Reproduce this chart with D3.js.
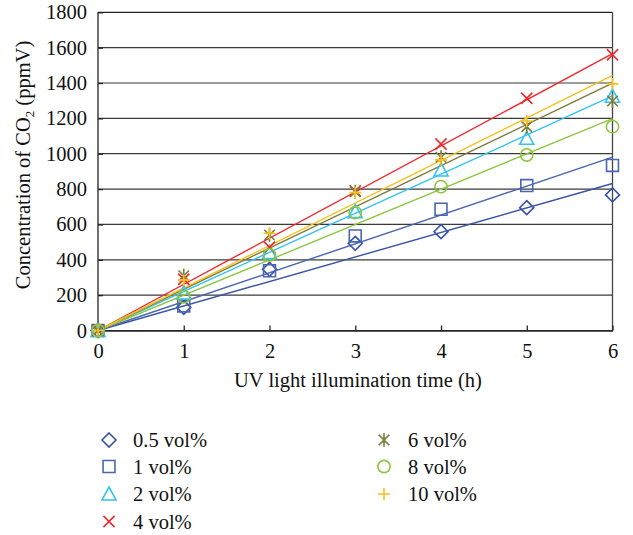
<!DOCTYPE html>
<html>
<head>
<meta charset="utf-8">
<script src="https://cdn.jsdelivr.net/npm/d3@7"></script>
<style>
  html, body { margin: 0; padding: 0; background: #fff; }
  svg text { font-family: "Liberation Serif", "DejaVu Serif", serif; fill: #111; }
</style>
</head>
<body>
<svg id="chart" width="633" height="535"></svg>
<script>
// Illumination times (h)
const times = [0, 1, 2, 3, 4, 5, 6];

// CO2 concentration (ppmV) per ethanol concentration
const series05 = [0, 131, 346, 493, 559, 695, 767];
const series1  = [0, 139, 338, 535, 686, 820, 934];
const series2  = [0, 212, 440, 672, 908, 1087, 1325];
const series4  = [0, 290, 471, 790, 1055, 1314, 1560];
const series6  = [0, 310, 540, 785, 980, 1153, 1298];
const series8  = [0, 191, 427, 667, 814, 993, 1153];
const series10 = [0, 285, 550, 780, 965, 1185, 1395];

const seriesNames = ["0.5 vol%", "1 vol%", "2 vol%", "4 vol%", "6 vol%", "8 vol%", "10 vol%"];
const seriesColors = ["#3a54a4", "#4a66b0", "#35c3f0", "#ee2b2f", "#7d7a3c", "#8dc63f", "#f7bf1a"];
const seriesSymbols = ["diamond", "square", "triangle", "cross", "asterisk", "circle", "plus"];

const yTicks = [0, 200, 400, 600, 800, 1000, 1200, 1400, 1600, 1800];
const xTicks = [0, 1, 2, 3, 4, 5, 6];

const allValues = [series05, series1, series2, series4, series6, series8, series10];
const series = seriesNames.map((name, i) => ({
  name, color: seriesColors[i], symbol: seriesSymbols[i], values: allValues[i]
}));

const svg = d3.select("#chart");
const plotLeft = 98, plotRight = 612.5, plotTop = 12.3, plotBottom = 330.5;
const fontSize = 20.5;

const x = d3.scaleLinear().domain([0, 6]).range([plotLeft, plotRight]);
const y = d3.scaleLinear().domain([0, 1800]).range([plotBottom, plotTop]);

// Horizontal grid lines
svg.append("g")
  .selectAll("line")
  .data(yTicks)
  .join("line")
  .attr("x1", plotLeft).attr("x2", plotRight)
  .attr("y1", d => y(d)).attr("y2", d => y(d))
  .attr("stroke", d => d === 1800 ? "#222" : "#3a3a3a")
  .attr("stroke-width", 1.2);

// Frame: left and right
svg.append("line").attr("x1", plotLeft).attr("x2", plotLeft).attr("y1", plotTop).attr("y2", plotBottom)
  .attr("stroke", "#222").attr("stroke-width", 1.3);
svg.append("line").attr("x1", plotRight).attr("x2", plotRight).attr("y1", plotTop).attr("y2", plotBottom)
  .attr("stroke", "#444").attr("stroke-width", 1.3);

// Axes
const xAxis = d3.axisBottom(x).tickValues(xTicks).tickSizeInner(-5).tickSizeOuter(0).tickPadding(13)
  .tickFormat(d3.format("d"));
const gx = svg.append("g").attr("transform", `translate(0,${plotBottom})`).call(xAxis);
gx.select(".domain").attr("stroke", "#222").attr("stroke-width", 1.3);
gx.selectAll(".tick line").attr("stroke", "#222").attr("stroke-width", 1.3);
gx.selectAll("text").attr("font-size", fontSize).attr("dy", "0.71em")
  .style("font-family", "Liberation Serif, serif").attr("fill", "#111");

const yAxis = d3.axisLeft(y).tickValues(yTicks).tickSizeInner(-5).tickSizeOuter(0).tickPadding(11)
  .tickFormat(d3.format("d"));
const gy = svg.append("g").attr("transform", `translate(${plotLeft},0)`).call(yAxis);
gy.select(".domain").remove();
gy.selectAll(".tick line").attr("stroke", "#222").attr("stroke-width", 1.3);
gy.selectAll("text").attr("font-size", fontSize)
  .style("font-family", "Liberation Serif, serif").attr("fill", "#111");

// Axis titles
svg.append("text")
  .attr("x", 358).attr("y", 387)
  .attr("text-anchor", "middle").attr("font-size", fontSize)
  .text("UV light illumination time (h)");

const yTitle = svg.append("text")
  .attr("transform", `translate(30,${165}) rotate(-90)`)
  .attr("text-anchor", "middle").attr("font-size", fontSize);
yTitle.append("tspan").text("Concentration of CO");
yTitle.append("tspan").attr("font-size", 13).attr("dy", 4).text("2");
yTitle.append("tspan").attr("dy", -4).text(" (ppmV)");

// Marker shapes
function symbolPath(type, s) {
  const h = s / 2;
  switch (type) {
    case "diamond": return `M0,${-h}L${h},0L0,${h}L${-h},0Z`;
    case "square": { const q = h * 0.85; return `M${-q},${-q}H${q}V${q}H${-q}Z`; }
    case "triangle": return `M0,${-h}L${h},${h * 0.85}L${-h},${h * 0.85}Z`;
    case "cross": { const q = h * 0.8; return `M${-q},${-q}L${q},${q}M${q},${-q}L${-q},${q}`; }
    case "asterisk": { const q = h * 0.75; return `M${-q},${-q}L${q},${q}M${q},${-q}L${-q},${q}M0,${-h}V${h}`; }
    case "plus": { const q = h * 0.85; return `M${-q},0H${q}M0,${-q}V${q}`; }
    case "circle": { const r = h * 0.88; return `M${r},0A${r},${r} 0 1,1 ${-r},0A${r},${r} 0 1,1 ${r},0Z`; }
  }
}

// Trend lines through the origin (least squares, zero intercept)
const sxx = d3.sum(times, t => t * t);
series.forEach(s => {
  const slope = d3.sum(times, (t, i) => t * s.values[i]) / sxx;
  svg.append("line")
    .attr("x1", x(0)).attr("y1", y(0))
    .attr("x2", x(6)).attr("y2", y(slope * 6))
    .attr("stroke", s.color).attr("stroke-width", 1.4);
});

// Data markers
series.forEach(s => {
  svg.append("g")
    .selectAll("path")
    .data(s.values)
    .join("path")
    .attr("transform", (d, i) => `translate(${x(times[i])},${y(d)})`)
    .attr("d", symbolPath(s.symbol, 14))
    .attr("fill", "none")
    .attr("stroke", s.color)
    .attr("stroke-width", 1.6);
});

// Legend
const legendCols = [{ mx: 109, tx: 133 }, { mx: 384, tx: 408 }];
const legendRows = [440, 466.5, 494, 521.5];
series.forEach((s, i) => {
  const col = i < 4 ? legendCols[0] : legendCols[1];
  const row = legendRows[i < 4 ? i : i - 4];
  const g = svg.append("g").attr("transform", `translate(${col.mx},${row})`);
  g.append("path").attr("d", symbolPath(s.symbol, 14))
    .attr("fill", "none").attr("stroke", s.color).attr("stroke-width", 1.6);
  svg.append("text").attr("x", col.tx).attr("y", row).attr("dy", "0.35em")
    .attr("font-size", fontSize).text(s.name);
});
</script>
</body>
</html>
